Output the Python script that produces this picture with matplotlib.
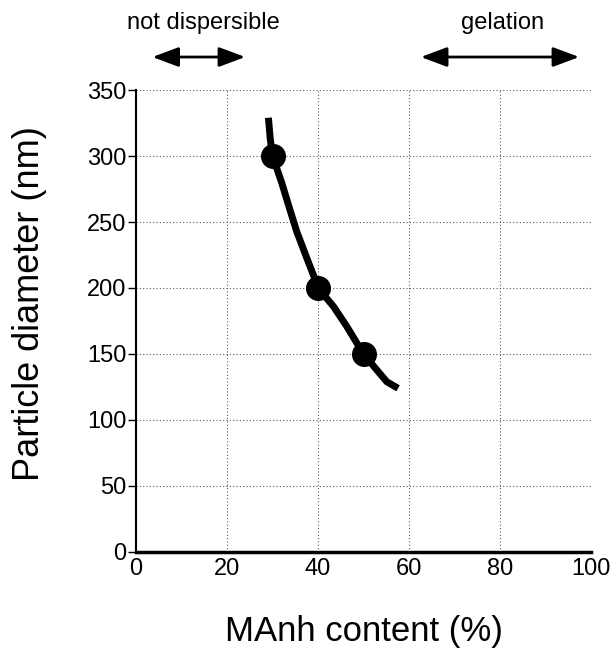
import numpy as np
import matplotlib.pyplot as plt

plt.rcParams['font.family'] = ['Liberation Sans', 'DejaVu Sans']

# measured points
manh = [30, 40, 50]
diameter = [300, 200, 150]

# hand-drawn trend curve
curve_x = [29.1, 29.5, 30.0, 32.0, 33.5, 35.3, 37.5, 39.3, 40.0, 43.4, 46.3, 50.0, 52.9, 55.1, 57.6]
curve_y = [329, 313, 300, 280, 263, 243, 223, 207, 200, 186, 171, 150, 138, 129, 124]

x_ticks = [0, 20, 40, 60, 80, 100]
y_ticks = [0, 50, 100, 150, 200, 250, 300, 350]

fig = plt.figure(figsize=(6.11, 6.49), dpi=100)
ax = fig.add_axes([0.2226, 0.1495, 0.7447, 0.7118])

ax.plot(curve_x, curve_y, color="black", lw=5, solid_capstyle="butt",
        solid_joinstyle="round", zorder=3)
ax.plot(manh, diameter, "o", color="black", ms=17, zorder=4)

ax.set_xlim(0, 100)
ax.set_ylim(0, 350)
ax.set_xticks(x_ticks)
ax.set_yticks(y_ticks)
ax.grid(True, ls=(0, (1, 2)), color="0.35", lw=0.8)
ax.spines["top"].set_visible(False)
ax.spines["right"].set_visible(False)
ax.spines["left"].set_linewidth(1.5)
ax.spines["bottom"].set_linewidth(2.5)
ax.tick_params(axis="y", direction="out", length=6, width=1, labelsize=17, pad=1)
ax.tick_params(axis="x", length=0, labelsize=17, pad=4)

ax.set_xlabel("MAnh content (%)", fontsize=25)
ax.set_ylabel("Particle diameter (nm)", fontsize=26)
ax.xaxis.set_label_coords(0.5, -0.136)
ax.yaxis.set_label_coords(-0.196, 0.537)

# region arrows above the plot
arrow = dict(arrowstyle="<|-|>,head_length=1.6,head_width=0.6", color="black", lw=2)
ax.annotate("", xy=(3, 375), xytext=(24.6, 375), xycoords="data",
            arrowprops=arrow, annotation_clip=False)
ax.annotate("", xy=(62, 375), xytext=(98, 375), xycoords="data",
            arrowprops=arrow, annotation_clip=False)
ax.text(14.7, 401, "not dispersible", ha="center", va="center", fontsize=17, clip_on=False)
ax.text(80.5, 401, "gelation", ha="center", va="center", fontsize=17, clip_on=False)

fig.savefig("out.png", dpi=100)
